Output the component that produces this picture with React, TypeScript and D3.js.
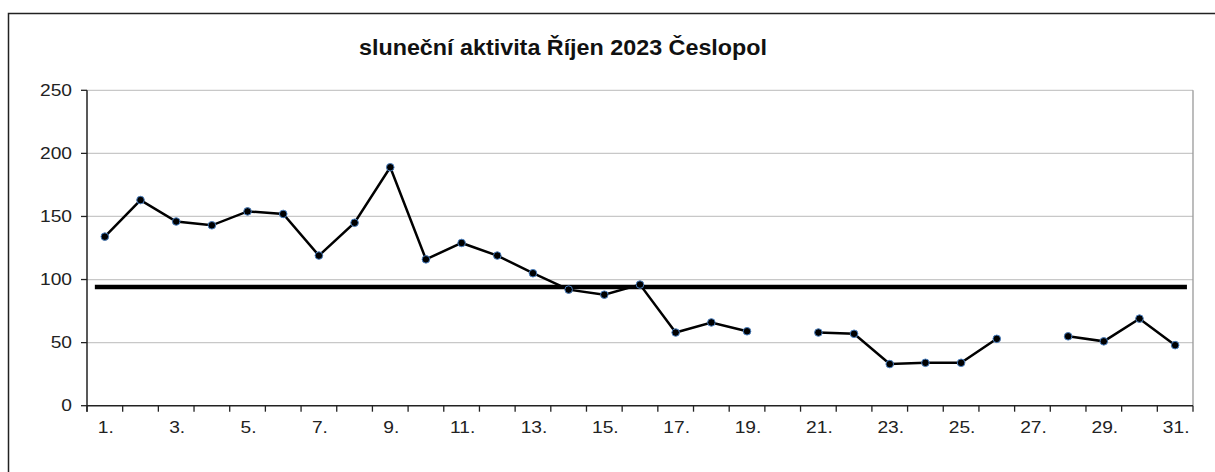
import React from "react";
import * as d3 from "d3";

const days: string[] = Array.from({ length: 31 }, (_, i) => `${i + 1}.`);
const values: (number | null)[] = [
  134, 163, 146, 143, 154, 152, 119, 145, 189, 116,
  129, 119, 105, 92, 88, 96, 58, 66, 59, null,
  58, 57, 33, 34, 34, 53, null, 55, 51, 69, 48,
];
const averageValue = 94;
const yTicks = [0, 50, 100, 150, 200, 250];
const title = "sluneční aktivita Říjen 2023 Česlopol";

export default function App() {
  const W = 1215, H = 472;
  const left = 87, right = 1193, top = 90.3, bottom = 405.7;
  const x = d3.scaleBand<string>().domain(days).range([left, right]).padding(0);
  const y = d3.scaleLinear().domain([0, 250]).range([bottom, top]);
  const cx = (d: string) => (x(d) as number) + x.bandwidth() / 2;
  const pts = days.map((d, i) => ({ d, v: values[i] }));
  const line = d3
    .line<{ d: string; v: number | null }>()
    .defined((p) => p.v !== null)
    .x((p) => cx(p.d))
    .y((p) => y(p.v as number));
  const font = "Arial, 'Liberation Sans', sans-serif";
  const avgX0 = (x(days[0]) as number) + x.bandwidth() * 0.22;
  const avgX1 = (x(days[days.length - 1]) as number) + x.bandwidth() * 0.83;
  const sx = 1.2;
  return (
    <svg width={W} height={H} style={{ position: "absolute", left: 0, top: 0 }}>
      <rect x={0} y={0} width={W} height={H} fill="#fff" />
      <rect x={8.5} y={13.5} width={W + 20} height={H + 20} fill="none" stroke="#222" strokeWidth={1.5} />
      <text
        x={563}
        y={54.5}
        textAnchor="middle"
        fontFamily={font}
        fontWeight="bold"
        fontSize={22}
        fill="#111"
        textLength={408}
        lengthAdjust="spacingAndGlyphs"
      >
        {title}
      </text>
      {yTicks.map((t) => (
        <g key={t}>
          {t > 0 && <line x1={left} x2={right} y1={y(t)} y2={y(t)} stroke="#c8c8c8" strokeWidth={1.3} />}
          <line x1={left - 6} x2={left} y1={y(t)} y2={y(t)} stroke="#222" strokeWidth={1.3} />
          <text
            transform={`translate(72,${y(t) + 5.5}) scale(${sx},1)`}
            textAnchor="end"
            fontFamily={font}
            fontSize={16}
            fill="#222"
          >
            {t}
          </text>
        </g>
      ))}
      <line x1={right} x2={right} y1={top} y2={bottom} stroke="#999" strokeWidth={1.3} />
      <line x1={left} x2={left} y1={top} y2={bottom + 6} stroke="#222" strokeWidth={1.5} />
      <line x1={left} x2={right} y1={bottom} y2={bottom} stroke="#222" strokeWidth={1.5} />
      {days.map((d) => (
        <line key={"t" + d} x1={x(d) as number} x2={x(d) as number} y1={bottom} y2={bottom + 6} stroke="#222" strokeWidth={1.3} />
      ))}
      <line x1={right} x2={right} y1={bottom} y2={bottom + 6} stroke="#222" strokeWidth={1.3} />
      {days.map((d, i) =>
        i % 2 === 0 ? (
          <text
            key={"l" + d}
            transform={`translate(${cx(d) + 1},${bottom + 27.5}) scale(${sx},1)`}
            textAnchor="middle"
            fontFamily={font}
            fontSize={16}
            fill="#222"
          >
            {d}
          </text>
        ) : null
      )}
      <line x1={avgX0} x2={avgX1} y1={y(averageValue)} y2={y(averageValue)} stroke="#000" strokeWidth={4.5} />
      <path d={line(pts) || ""} fill="none" stroke="#000" strokeWidth={2.5} />
      {pts
        .filter((p) => p.v !== null)
        .map((p) => (
          <circle key={"c" + p.d} cx={cx(p.d)} cy={y(p.v as number)} r={3.8} fill="#000" stroke="#4a7fbf" strokeWidth={1} />
        ))}
    </svg>
  );
}
